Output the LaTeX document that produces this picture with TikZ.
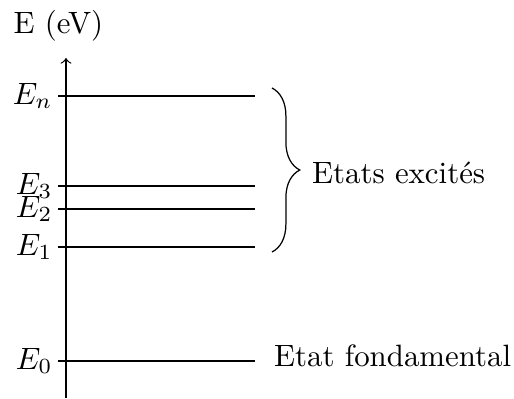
\documentclass[tikz,border=0pt]{standalone}
\usetikzlibrary{decorations.pathreplacing}
\tikzset{
  level/.style={draw=black, line width=0.4pt},
  lvllabel/.style={inner sep=0pt, anchor=east},
  txt/.style={inner sep=0pt, anchor=base west},
}
\begin{document}
\begin{tikzpicture}[x=0.3241pt,y=-0.3241pt]
\useasboundingbox (0,0) rectangle (514,398);
% axis
\coordinate (axb) at (66,398);
\coordinate (axt) at (66,58);
\draw[->] (axb) -- (axt);
\node[txt] (ylab) at (13,33) {E (eV)};
% levels
\coordinate (n0) at (58,96);  \coordinate (n1) at (255,96);
\coordinate (a0) at (58,186); \coordinate (a1) at (255,186);
\coordinate (b0) at (58,209); \coordinate (b1) at (255,209);
\coordinate (c0) at (58,247); \coordinate (c1) at (255,247);
\coordinate (d0) at (58,361); \coordinate (d1) at (255,361);
\draw[level] (n0) -- (n1);
\draw[level] (a0) -- (a1);
\draw[level] (b0) -- (b1);
\draw[level] (c0) -- (c1);
\draw[level] (d0) -- (d1);
\node[lvllabel] (ln) at (53,96) {$E_n$};
\node[lvllabel] (l3) at (53,186) {$E_3$};
\node[lvllabel] (l2) at (53,209) {$E_2$};
\node[lvllabel] (l1) at (53,247) {$E_1$};
\node[lvllabel] (l0) at (53,361) {$E_0$};
% brace
\coordinate (bt) at (272,88);
\coordinate (bb) at (272,252);
\draw[decorate, decoration={brace, amplitude=9pt}] (bt) -- (bb);
\node[txt] (exc) at (311.5,183) {Etats excités};
\node[txt] (fond) at (273.5,366) {Etat fondamental};
\end{tikzpicture}
\end{document}
